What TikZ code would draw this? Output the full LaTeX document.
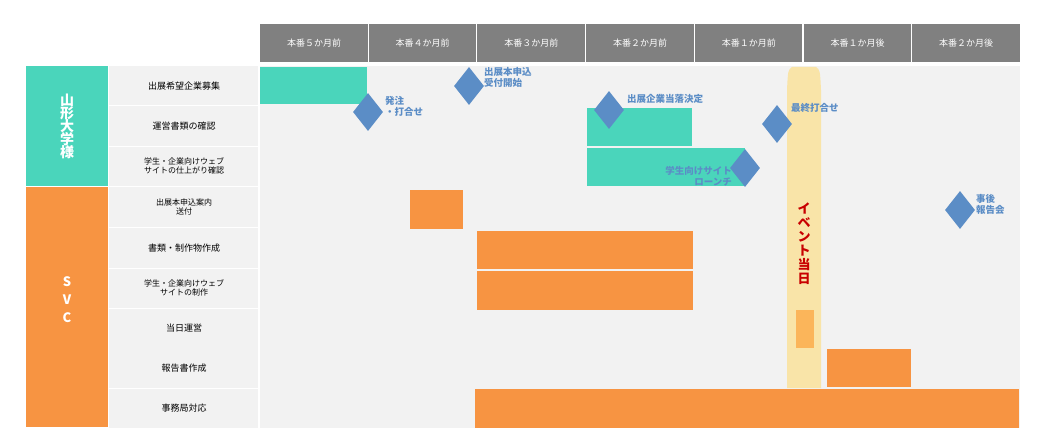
\documentclass[tikz,border=0pt]{standalone}
\usepackage{fontspec}
\setmainfont{Noto Sans CJK JP}
\usetikzlibrary{shapes.geometric}
\definecolor{hdr}{RGB}{128,128,128}
\definecolor{bgc}{RGB}{242,242,242}
\definecolor{teal}{RGB}{74,213,187}
\definecolor{orng}{RGB}{247,148,66}
\definecolor{lorng}{RGB}{251,181,90}
\definecolor{band}{RGB}{249,228,168}
\definecolor{mile}{RGB}{91,141,198}
\definecolor{evred}{RGB}{200,0,0}
\tikzset{
  hdrcell/.style={fill=hdr,text=white,font=\fontsize{9}{11}\selectfont},
  lblcell/.style={font=\fontsize{9}{11}\selectfont,align=center},
  milestone/.style={diamond,fill=mile,inner sep=0pt,minimum width=30pt,minimum height=38pt},
  miletext/.style={text=mile,font=\bfseries\fontsize{9.5}{11}\selectfont,align=left,inner sep=0pt}
}
\begin{document}
\begin{tikzpicture}[x=1pt,y=-1pt]
\useasboundingbox (0,0) rectangle (1046,446);

% header
\foreach \i/\t in {0/本番５か月前,1/本番４か月前,2/本番３か月前,3/本番２か月前,4/本番１か月前,5/本番１か月後,6/本番２か月後}{
  \fill[hdr] ({260+108.7*\i},24) rectangle ({260+108.7*\i+107.5},62);
  \node[hdrcell] (h\i) at ({260+108.7*\i+54},43) {\t};
}

% chart background and row labels
\fill[bgc] (260,66) rectangle (1020,428);
\fill[bgc] (109,66) rectangle (258,428);
\foreach \y in {105.5,146.5,186.5,227.5,268.5,308.5,388.5}
  \draw[white,line width=1.2pt] (109,\y) -- (258,\y);

\fill[teal] (26,66) rectangle (108,186);
\fill[orng] (26,187) rectangle (108,427);
\node[text=white,font=\bfseries\fontsize{14}{16}\selectfont,align=center] (univ) at (67,126) {山\\[-3pt]形\\[-3pt]大\\[-3pt]学\\[-3pt]様};
\node[text=white,font=\bfseries\fontsize{13}{18}\selectfont,align=center] (svc) at (67,300) {S\\V\\C};

\node[lblcell] (r1) at (184,86) {出展希望企業募集};
\node[lblcell] (r2) at (184,126) {運営書類の確認};
\node[lblcell,font=\fontsize{8}{9.5}\selectfont] (r3) at (184,166) {学生・企業向けウェブ\\サイトの仕上がり確認};
\node[lblcell,font=\fontsize{8}{9.5}\selectfont] (r4) at (184,207) {出展本申込案内\\送付};
\node[lblcell] (r5) at (184,248) {書類・制作物作成};
\node[lblcell,font=\fontsize{8}{9.5}\selectfont] (r6) at (184,288) {学生・企業向けウェブ\\サイトの制作};
\node[lblcell] (r7) at (184,328) {当日運営};
\node[lblcell] (r8) at (184,368) {報告書作成};
\node[lblcell] (r9) at (184,408) {事務局対応};

% event band
\fill[band] (787,388) -- (787,90) .. controls (788,70) .. (792,67) -- (816,67) .. controls (820,70) .. (821,90) -- (821,388) -- cycle;
\node[text=evred,font=\bfseries\fontsize{13}{14}\selectfont,align=center,inner sep=0pt] (event) at (804,244) {イ\\ベ\\ン\\ト\\当\\日};
\fill[lorng] (796,310) rectangle (814,348);

% bars
\fill[teal] (260,67) rectangle (367,104);
\fill[teal] (587,108) rectangle (692,146);
\fill[teal] (587,148) rectangle (745,186);
\fill[orng] (410,190) rectangle (463,229);
\fill[orng] (477,231) rectangle (693,269);
\fill[orng] (477,271) rectangle (693,310);
\fill[orng] (827,349) rectangle (911,387);
\fill[orng] (475,389) rectangle (1019,428);

% milestones
\node[milestone] (m1) at (368,112) {};
\node[milestone] (m2) at (469,86) {};
\node[milestone] (m3) at (609,110) {};
\node[milestone] (m4) at (777,124) {};
\node[milestone] (m5) at (745,168) {};
\node[milestone] (m6) at (960,210) {};

\node[miletext,anchor=north west] (t1) at (385,96) {発注\\・打合せ};
\node[miletext,anchor=north west] (t2) at (484,67) {出展本申込\\受付開始};
\node[miletext,anchor=north west] (t3) at (627,94) {出展企業当落決定};
\node[miletext,anchor=north west] (t4) at (791,103) {最終打合せ};
\node[miletext,align=right,anchor=north east] (t5) at (732,166) {学生向けサイト\\ローンチ};
\node[miletext,anchor=north west] (t6) at (976,194) {事後\\報告会};
\end{tikzpicture}
\end{document}
